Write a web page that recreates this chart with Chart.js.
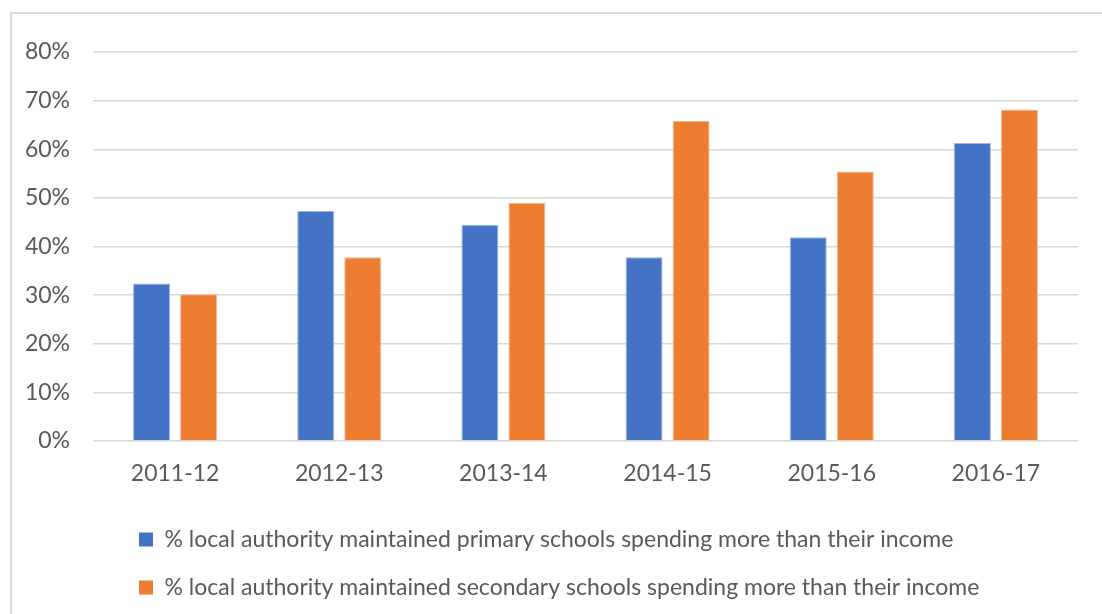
<!DOCTYPE html>
<html>
<head>
<meta charset="utf-8">
<script src="https://cdn.jsdelivr.net/npm/chart.js@4.4.1/dist/chart.umd.min.js"></script>
<style>
    html, body { margin: 0; padding: 0; background: #fff; }
    .container { position: relative; width: 1102px; height: 614px; overflow: hidden; }
    .frame { position: absolute; left: 10px; top: 12px; width: 1200px; height: 700px; border: 2px solid #d9d9d9; box-sizing: border-box; }
    canvas { position: absolute; left: 0; top: 0; }
</style>
</head>
<body>
<div class="container">
    <div class="frame"></div>
    <canvas id="canvas-schools" width="1102" height="614"></canvas>
</div>
<script>
const years = ['2011-12', '2012-13', '2013-14', '2014-15', '2015-16', '2016-17']
const primary_values = [32.4, 47.3, 44.4, 37.8, 41.9, 61.3]
const secondary_values = [30.2, 37.8, 49.0, 65.8, 55.4, 68.2]
const series_labels = [
    '% local authority maintained primary schools spending more than their income',
    '% local authority maintained secondary schools spending more than their income'
]
const y_ticks = [0, 10, 20, 30, 40, 50, 60, 70, 80]

const COLORS = {
    primary: '#4472c4',
    primary_edge: '#9fb6e2',
    secondary: '#ed7d31',
    secondary_edge: '#f7b894',
    text: '#595959',
    grid: '#d9d9d9'
}
const FONT = 'Lato, "Liberation Sans", sans-serif'
const FONT_SIZE = 23

// move the legend rows so they start under the first category, like the original
const legend_shift = {
    id: 'legend_shift',
    afterLayout(chart){
        const legend = chart.legend
        legend.left = 114
    }
}

const ctx = document.getElementById('canvas-schools').getContext('2d')
new Chart(ctx, {
    type: 'bar',
    data: {
        labels: years,
        datasets: [
            {
                label: series_labels[0],
                data: primary_values,
                backgroundColor: COLORS.primary,
                borderColor: COLORS.primary_edge,
                borderWidth: 1
            },
            {
                label: series_labels[1],
                data: secondary_values,
                backgroundColor: COLORS.secondary,
                borderColor: COLORS.secondary_edge,
                borderWidth: 1
            }
        ]
    },
    options: {
        responsive: false,
        animation: false,
        layout: { padding: { top: 52, left: 16, right: 24, bottom: 5 } },
        datasets: {
            bar: { categoryPercentage: 0.573, barPercentage: 0.787 }
        },
        scales: {
            x: {
                grid: { display: false },
                border: { display: false },
                ticks: { color: COLORS.text, font: { family: FONT, size: FONT_SIZE }, padding: 11 },
                afterFit(scale){ scale.height = 62 }
            },
            y: {
                min: 0,
                max: 80,
                afterBuildTicks(scale){ scale.ticks = y_ticks.map(v => ({ value: v })) },
                grid: { color: COLORS.grid, lineWidth: 1.5, drawTicks: false },
                border: { display: false },
                ticks: {
                    color: COLORS.text,
                    font: { family: FONT, size: FONT_SIZE },
                    padding: 23,
                    callback: v => v + '%'
                },
                afterFit(scale){ scale.width = 77 }
            }
        },
        plugins: {
            legend: {
                position: 'bottom',
                align: 'start',
                labels: {
                    color: COLORS.text,
                    font: { family: FONT, size: FONT_SIZE },
                    boxWidth: 14,
                    boxHeight: 14,
                    padding: 25,
                    generateLabels(chart){
                        return chart.data.datasets.map((ds, i) => ({
                            text: ds.label,
                            fillStyle: ds.backgroundColor,
                            strokeStyle: ds.backgroundColor,
                            lineWidth: 0,
                            fontColor: COLORS.text,
                            datasetIndex: i
                        }))
                    }
                }
            },
            tooltip: { enabled: false }
        }
    },
    plugins: [legend_shift]
})
</script>
</body>
</html>
